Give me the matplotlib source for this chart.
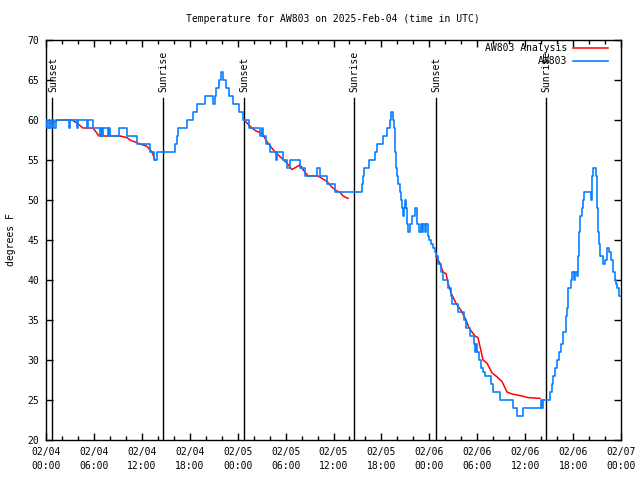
import numpy as np
import matplotlib
matplotlib.use("Agg")
import matplotlib.pyplot as plt
from matplotlib.ticker import MultipleLocator

plt.rcParams['font.family'] = ['DejaVu Sans Mono']

title = "Temperature for AW803 on 2025-Feb-04 (time in UTC)"
ylabel = "degrees F"

# observed series (hours since 2025-02-04 00:00 UTC, deg F)
obs_hours = [0.00, 0.15, 0.35, 0.55, 0.80, 1.00, 1.30, 2.88, 3.00, 3.88, 4.01, 5.13, 5.30,
             5.89, 6.70, 6.85, 7.05, 7.15, 7.75, 7.90, 8.01, 9.14, 10.14, 11.39, 13.02,
             13.52, 13.90, 16.15, 16.40, 16.53, 17.66, 18.41, 18.91, 19.91, 20.91, 21.10,
             21.29, 21.66, 21.92, 22.17, 22.54, 22.92, 23.42, 24.17, 24.70, 25.40, 26.80,
             27.05, 27.17, 27.55, 28.05, 28.80, 28.95, 29.68, 30.18, 30.55, 31.81, 32.43,
             33.93, 34.31, 35.19, 36.19, 39.57, 39.69, 39.82, 40.45, 41.20, 41.45, 42.20,
             42.70, 43.08, 43.20, 43.45, 43.58, 43.70, 43.83, 43.95, 44.08, 44.33, 44.45,
             44.58, 44.70, 44.83, 44.95, 45.08, 45.21, 45.33, 45.58, 45.83, 46.21, 46.46,
             46.71, 46.96, 47.08, 47.21, 47.46, 47.58, 47.83, 47.96, 48.21, 48.46, 48.71,
             48.84, 49.09, 49.46, 49.71, 50.34, 50.71, 50.84, 51.59, 52.34, 52.59, 53.09,
             53.59, 53.72, 53.85, 53.97, 54.22, 54.47, 54.72, 54.97, 55.72, 55.97, 56.85,
             58.48, 58.98, 59.73, 62.00, 62.15, 62.25, 62.61, 63.11, 63.36, 63.49, 63.74,
             63.99, 64.24, 64.49, 64.74, 65.11, 65.24, 65.36, 65.74, 65.86, 66.11, 66.24,
             66.49, 66.62, 66.74, 66.87, 67.12, 67.24, 67.40, 68.24, 68.37, 68.49, 68.87,
             68.99, 69.12, 69.24, 69.37, 69.75, 70.00, 70.25, 70.50, 70.75, 71.00, 71.25,
             71.37, 71.50, 71.75, 72.00]
obs_temps = [60, 59, 60, 59, 60, 59, 60, 59, 60, 59, 60, 59, 60,
             59, 58, 59, 58, 59, 58, 59, 58, 59, 58, 57, 56,
             55, 56, 57, 58, 59, 60, 61, 62, 63, 62, 63,
             64, 65, 66, 65, 64, 63, 62, 61, 60, 59, 58,
             59, 58, 57, 56, 55, 56, 55, 54, 55, 54, 53,
             54, 53, 52, 51, 52, 53, 54, 55, 56, 57, 58,
             59, 60, 61, 60, 59, 56, 54, 53, 52, 51, 50,
             49, 48, 49, 50, 49, 47, 46, 47, 48, 49, 47,
             46, 47, 46, 47, 46, 47, 45.5, 45, 44.5, 44, 43.5,
             43, 42, 41, 40, 39, 38, 37, 36, 35, 34, 33,
             32, 31, 32, 31, 30, 29, 28.5, 28, 27, 26, 25,
             24, 23, 24, 25, 24, 25, 25, 26, 27, 28, 29,
             30, 31, 32, 33.5, 35.5, 36.5, 39, 40, 41, 40, 41,
             40.5, 43, 46, 48, 49, 50, 51, 50, 53, 54, 53,
             49, 46, 44.5, 43, 42, 42.5, 44, 43.5, 42.5, 41, 40,
             39.5, 39, 38, 38]

# analysis series, three separate runs
ana1_hours = [0.50, 1.13, 1.50, 3.26, 3.88, 4.26, 4.63, 5.89, 6.26, 6.64, 9.27, 10.14,
              10.52, 11.52, 12.65, 13.27, 13.65]
ana1_temps = [59.6, 59.8, 60.0, 60.0, 59.6, 59.3, 59.0, 59.0, 58.5, 58.0, 58.0, 57.8,
              57.5, 57.1, 56.7, 56.0, 55.0]
ana2_hours = [24.79, 25.29, 25.80, 26.17, 27.05, 27.80, 28.68, 29.55, 30.18, 30.80, 31.30,
              31.81, 32.18, 32.81, 34.06, 34.56, 35.19, 35.81, 36.44, 36.81, 37.19, 37.82]
ana2_temps = [60.0, 59.5, 59.0, 58.7, 58.3, 57.1, 56.0, 55.2, 54.6, 53.8, 54.1,
              54.4, 53.8, 53.0, 53.0, 52.7, 52.3, 51.6, 51.1, 51.0, 50.5, 50.2]
ana3_hours = [48.84, 49.33, 49.71, 50.09, 50.34, 50.71, 51.34, 51.97, 52.59, 52.97, 53.72,
              54.09, 54.34, 54.72, 55.22, 55.85, 56.47, 57.10, 57.73, 58.35, 59.60, 60.35,
              61.86]
ana3_temps = [42.9, 42.1, 41.0, 40.8, 39.6, 38.4, 37.1, 36.2, 35.0, 34.0, 33.0,
              32.8, 31.7, 30.0, 29.6, 28.4, 27.9, 27.3, 26.0, 25.75, 25.5, 25.3,
              25.2]

sun_hours = [0.78, 14.65, 24.79, 38.57, 48.78, 62.61]
sun_labels = ["Sunset", "Sunrise", "Sunset", "Sunrise", "Sunset", "Sunrise"]

tick_hours = list(range(0, 73, 6))
tick_labels = ["02/04\n00:00", "02/04\n06:00", "02/04\n12:00", "02/04\n18:00",
               "02/05\n00:00", "02/05\n06:00", "02/05\n12:00", "02/05\n18:00",
               "02/06\n00:00", "02/06\n06:00", "02/06\n12:00", "02/06\n18:00",
               "02/07\n00:00"]

RED = "#ff0000"
BLUE = "#0a80ff"
FS = 7

fig = plt.figure(figsize=(6.4, 4.8), dpi=100)
ax = fig.add_axes([46 / 640, 40 / 480, 575 / 640, 400 / 480])

first = True
for hh, tt in [(ana1_hours, ana1_temps), (ana2_hours, ana2_temps), (ana3_hours, ana3_temps)]:
    ax.plot(hh, tt, color=RED, lw=1.1, label="AW803 Analysis" if first else None, zorder=3)
    first = False
ax.plot(obs_hours, obs_temps, color=BLUE, lw=1.2, drawstyle="steps-post", label="AW803", zorder=4)

for h, lab in zip(sun_hours, sun_labels):
    ax.plot([h, h], [20, 62.75], color="black", lw=1.0, zorder=2)
    ax.text(h + 0.1, 63.5, lab, rotation=90, ha="center", va="bottom", fontsize=FS)

ax.set_xlim(0, 72)
ax.set_ylim(20, 70)
ax.set_xticks(tick_hours)
ax.set_xticklabels(tick_labels, fontsize=FS, linespacing=1.5)
ax.xaxis.set_minor_locator(MultipleLocator(2))
ax.yaxis.set_major_locator(MultipleLocator(5))
for lab in ax.get_yticklabels():
    lab.set_fontsize(FS)
ax.tick_params(axis="both", which="both", direction="in", top=True, right=True,
               labelsize=FS, width=1.0, color="black")
ax.tick_params(axis="both", which="major", length=5, pad=5)
ax.tick_params(axis="x", which="minor", length=3)
for s in ax.spines.values():
    s.set_linewidth(1.0)

ax.set_ylabel(ylabel, fontsize=FS, labelpad=8)
fig.text(333 / 640, 1 - 19 / 480, title, ha="center", va="center", fontsize=FS)

ax.legend(loc="upper right", bbox_to_anchor=(1 - 10 / 575, 1.0), frameon=False,
          markerfirst=False, fontsize=FS, handlelength=3.6, handletextpad=0.6,
          labelspacing=0.35, borderaxespad=0.1, borderpad=0.2)

fig.savefig("out.png", dpi=100)
